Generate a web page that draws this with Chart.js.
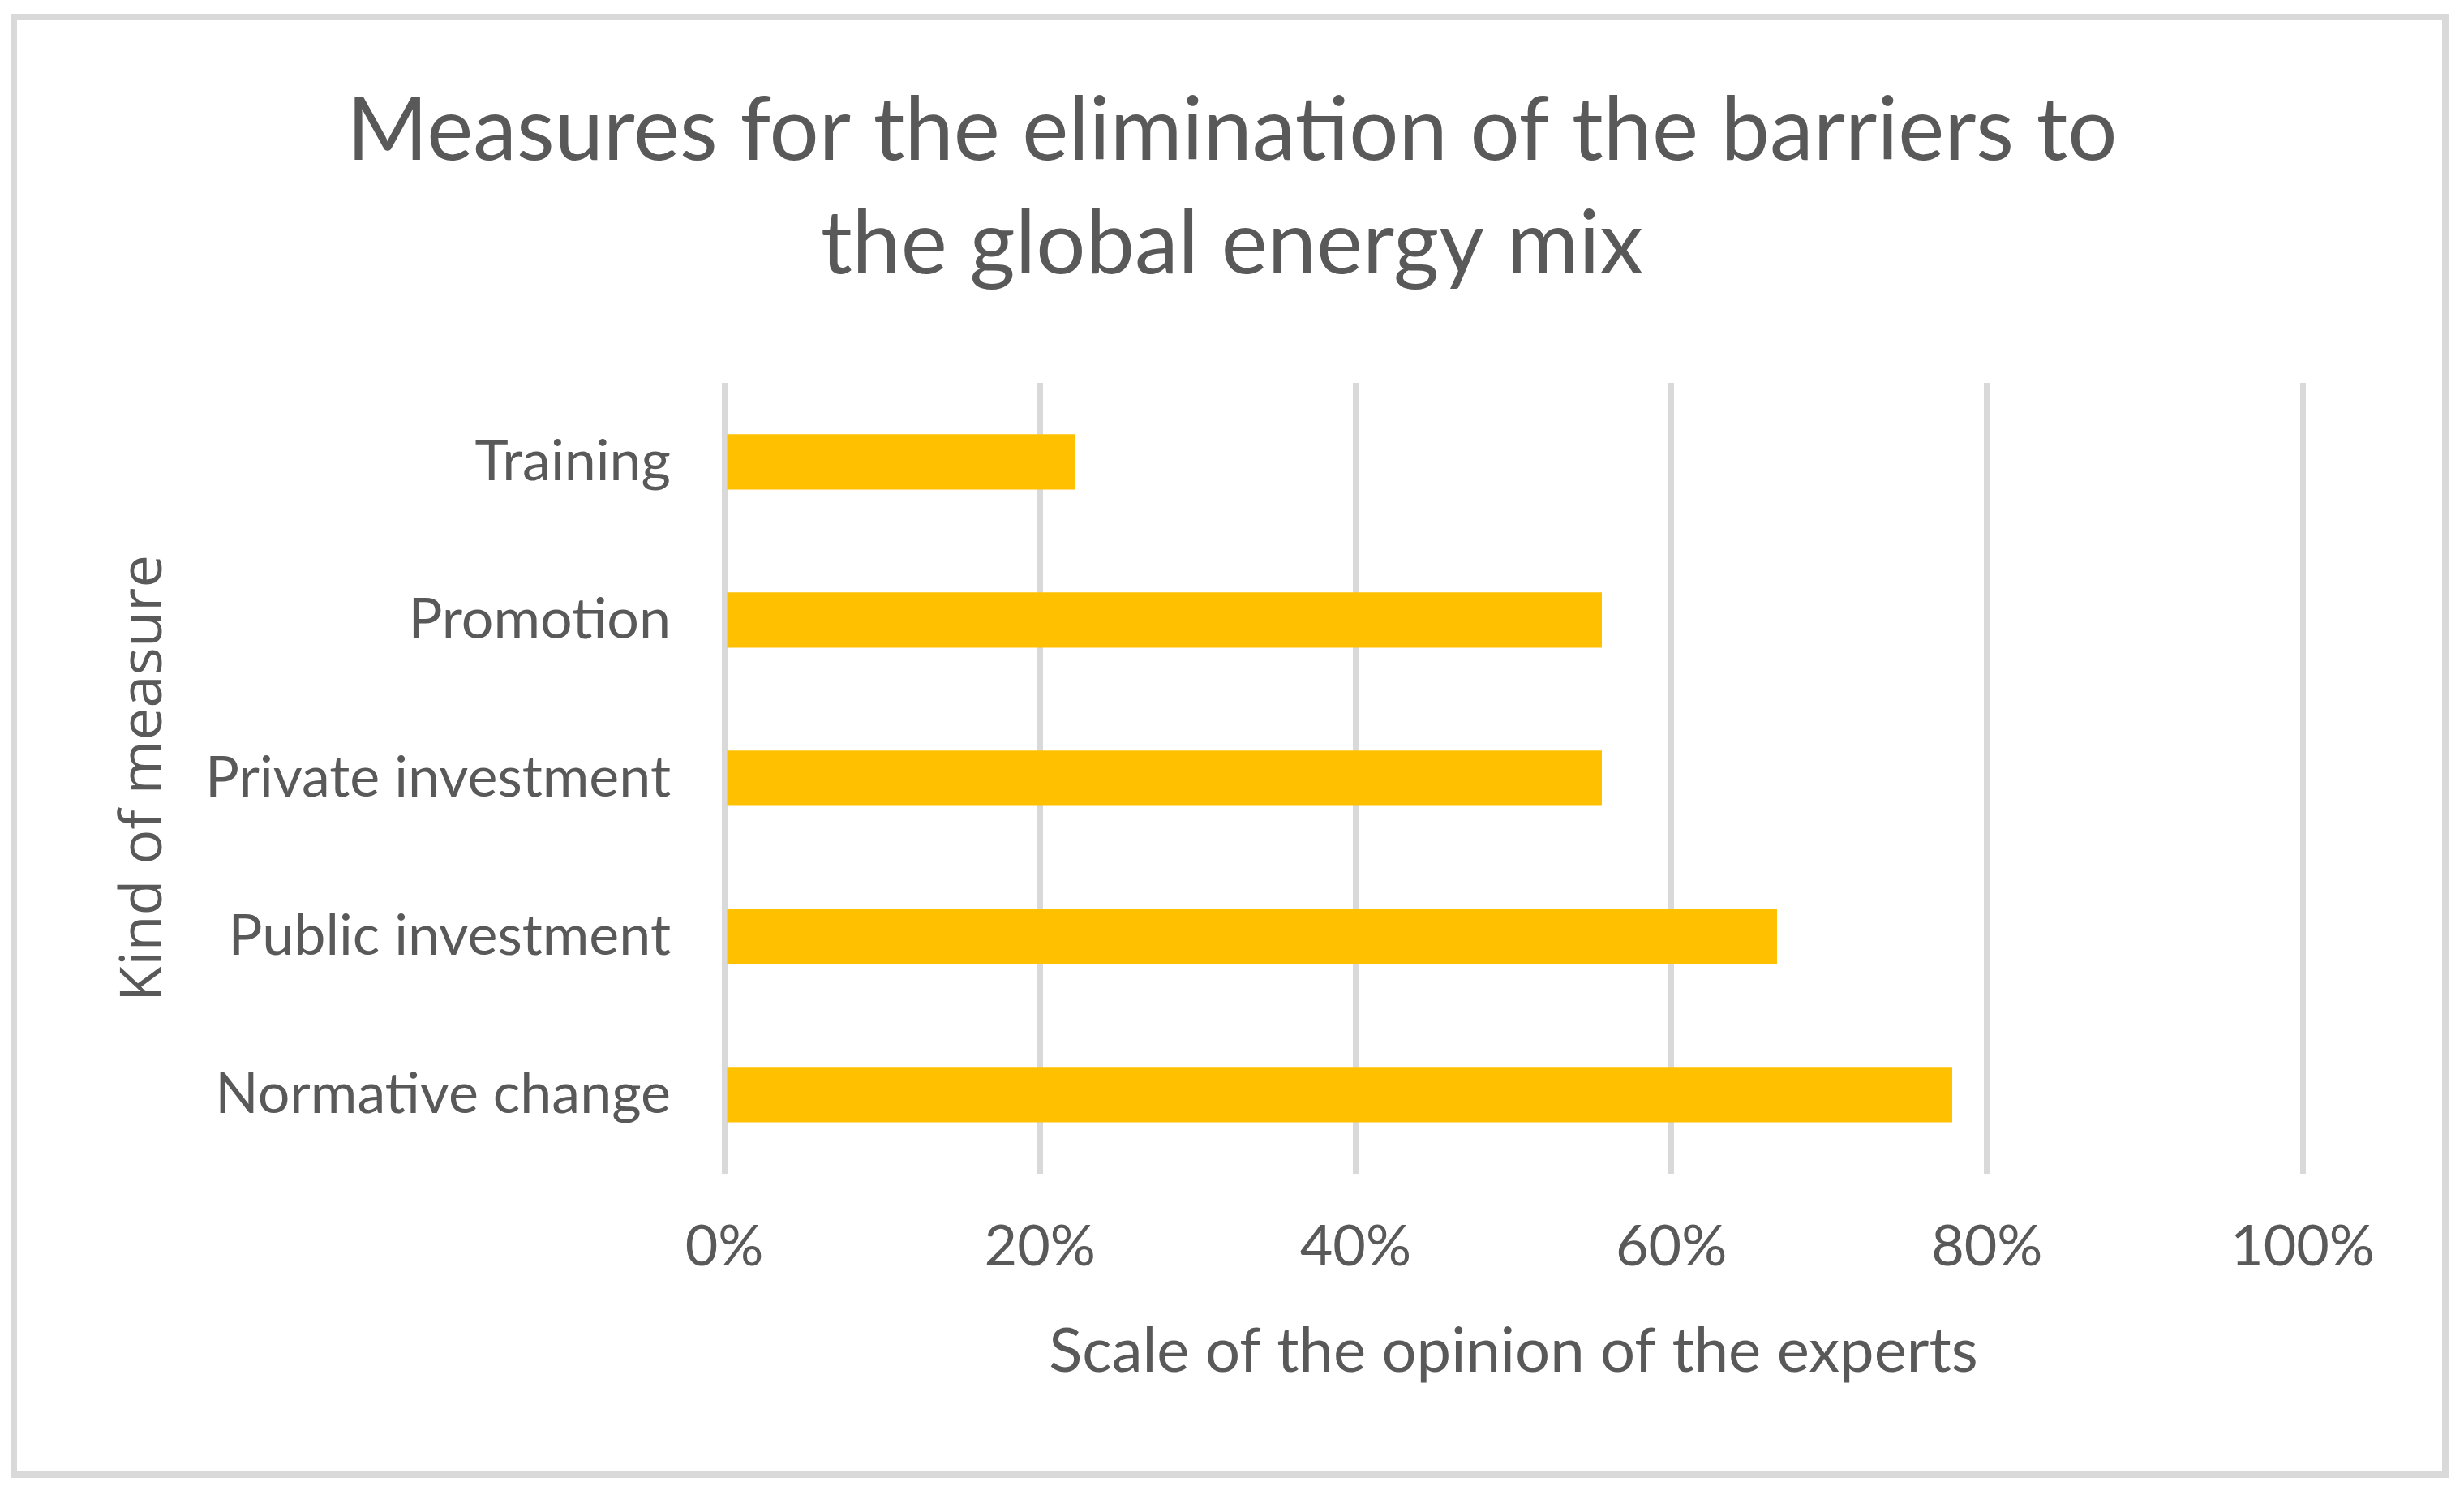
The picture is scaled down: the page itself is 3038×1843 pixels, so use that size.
<!DOCTYPE html>
<html>
<head>
<meta charset="utf-8">
<script src="https://cdn.jsdelivr.net/npm/chart.js@4.4.1/dist/chart.umd.min.js"></script>
<style>
  html, body { margin: 0; padding: 0; background: #ffffff; }
  #wrap { position: relative; width: 3038px; height: 1843px; }
</style>
</head>
<body>
<div id="wrap"><canvas id="c" width="3038" height="1843"></canvas></div>
<script>
const chartTitle = ["Measures for the elimination of the barriers to", "the global energy mix"];
const categories = ["Training", "Promotion", "Private investment", "Public investment", "Normative change"];
const values = [22.2, 55.6, 55.6, 66.7, 77.8];
const xTicks = [0, 20, 40, 60, 80, 100];
const xAxisTitle = "Scale of the opinion of the experts";
const yAxisTitle = "Kind of measure";

const TEXT = "#595959";
const GRID = "#D9D9D9";
const BAR = "#FFC000";

const frame = {
  id: "frame",
  afterDraw(chart) {
    const ctx = chart.ctx;
    ctx.save();
    ctx.strokeStyle = GRID;
    ctx.lineWidth = 8;
    ctx.strokeRect(17, 21, 2998, 1797);
    ctx.restore();
  }
};
const bg = {
  id: "bg",
  beforeDraw(chart) {
    const ctx = chart.ctx;
    ctx.save();
    ctx.fillStyle = "#ffffff";
    ctx.fillRect(0, 0, chart.width, chart.height);
    ctx.restore();
  }
};

new Chart(document.getElementById("c"), {
  type: "bar",
  data: {
    labels: categories,
    datasets: [{
      data: values,
      backgroundColor: BAR,
      borderWidth: 0,
      barPercentage: 0.35,
      categoryPercentage: 1.0
    }]
  },
  options: {
    indexAxis: "y",
    responsive: false,
    animation: false,
    devicePixelRatio: 1,
    layout: { padding: { left: 0, right: 0, top: 0, bottom: 0 } },
    plugins: {
      legend: { display: false },
      tooltip: { enabled: false },
      title: {
        display: true,
        text: chartTitle,
        color: TEXT,
        font: { family: "Lato", size: 108, weight: "normal", lineHeight: 1.296 },
        padding: { top: 92, bottom: 100 }
      }
    },
    scales: {
      x: {
        type: "linear",
        min: 0,
        max: 100,
        afterBuildTicks(scale) { scale.ticks = xTicks.map(v => ({ value: v })); },
        afterFit(scale) { scale.height = 396; },
        grid: { color: GRID, lineWidth: 7, drawTicks: false },
        border: { display: false },
        ticks: {
          color: TEXT,
          font: { family: "Lato", size: 70 },
          padding: 48,
          callback: v => v + "%"
        },
        title: {
          display: true,
          text: xAxisTitle,
          color: TEXT,
          font: { family: "Lato", size: 76, lineHeight: 1.2 },
          padding: { top: 0, bottom: 131 }
        }
      },
      y: {
        type: "category",
        position: "left",
        afterFit(scale) { scale.width = 893; },
        grid: { display: false, drawTicks: false },
        border: { display: false },
        ticks: {
          color: TEXT,
          font: { family: "Lato", size: 70 },
          padding: 66
        },
        title: {
          display: true,
          text: yAxisTitle,
          color: TEXT,
          font: { family: "Open Sans", size: 72, lineHeight: 1.2 },
          padding: { top: 135, bottom: 0 }
        }
      },
      yRight: {
        type: "linear",
        position: "right",
        display: true,
        afterFit(scale) { scale.width = 199; },
        grid: { display: false, drawTicks: false },
        border: { display: false },
        ticks: { display: false }
      }
    }
  },
  plugins: [bg, frame]
});
</script>
</body>
</html>
